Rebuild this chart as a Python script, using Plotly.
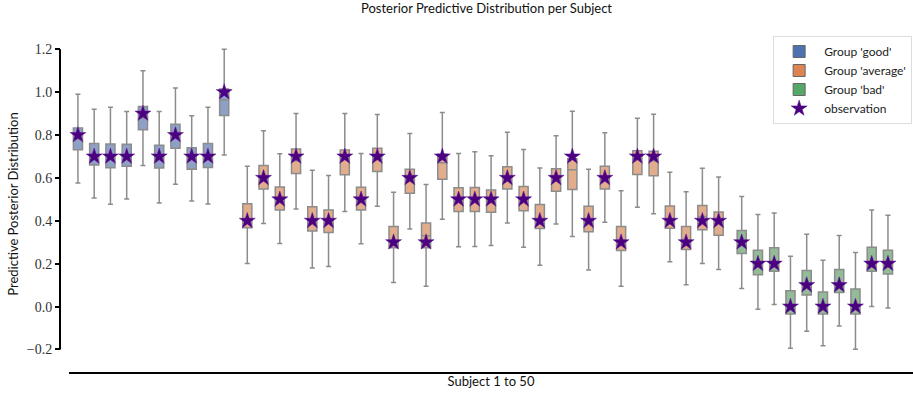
import plotly.graph_objects as go

subjects = list(range(1, 51))
groups = ["good"] * 10 + ["average"] * 30 + ["bad"] * 10
group_names = ["good", "average", "bad"]

observation = [0.8, 0.7, 0.7, 0.7, 0.9, 0.7, 0.8, 0.7, 0.7, 1.0,
               0.4, 0.6, 0.5, 0.7, 0.4, 0.4, 0.7, 0.5, 0.7, 0.3,
               0.6, 0.3, 0.7, 0.5, 0.5, 0.5, 0.6, 0.5, 0.4, 0.6,
               0.7, 0.4, 0.6, 0.3, 0.7, 0.7, 0.4, 0.3, 0.4, 0.4,
               0.3, 0.2, 0.2, 0.0, 0.1, 0.0, 0.1, 0.0, 0.2, 0.2]

upper = [0.99, 0.92, 0.93, 0.91, 1.10, 0.91, 1.02, 0.89, 0.93, 1.20,
         0.655, 0.82, 0.713, 0.90, 0.636, 0.611, 0.90, 0.714, 0.896, 0.533,
         0.807, 0.569, 0.905, 0.714, 0.722, 0.704, 0.813, 0.733, 0.646, 0.797,
         0.911, 0.64, 0.811, 0.54, 0.878, 0.897, 0.627, 0.536, 0.645, 0.604,
         0.513, 0.429, 0.437, 0.235, 0.338, 0.216, 0.332, 0.252, 0.451, 0.426]

q3 = [0.833, 0.761, 0.758, 0.757, 0.933, 0.752, 0.85, 0.741, 0.761, 1.015,
      0.48, 0.658, 0.558, 0.735, 0.466, 0.451, 0.73, 0.557, 0.738, 0.373,
      0.641, 0.39, 0.71, 0.554, 0.555, 0.544, 0.652, 0.56, 0.476, 0.643,
      0.69, 0.468, 0.654, 0.373, 0.727, 0.724, 0.469, 0.373, 0.472, 0.441,
      0.355, 0.263, 0.274, 0.074, 0.168, 0.068, 0.173, 0.082, 0.277, 0.263]

median = [0.78, 0.70, 0.70, 0.70, 0.88, 0.70, 0.80, 0.69, 0.70, 0.964,
          0.41, 0.607, 0.50, 0.68, 0.40, 0.40, 0.69, 0.50, 0.689, 0.31,
          0.60, 0.33, 0.671, 0.50, 0.50, 0.49, 0.60, 0.50, 0.399, 0.61,
          0.638, 0.407, 0.60, 0.31, 0.69, 0.68, 0.41, 0.31, 0.42, 0.405,
          0.30, 0.20, 0.21, 0.01, 0.10, 0.0, 0.11, 0.01, 0.20, 0.20]

q1 = [0.732, 0.66, 0.647, 0.655, 0.825, 0.646, 0.739, 0.641, 0.649, 0.891,
      0.368, 0.549, 0.451, 0.621, 0.352, 0.346, 0.615, 0.451, 0.63, 0.274,
      0.529, 0.274, 0.594, 0.444, 0.444, 0.44, 0.549, 0.447, 0.364, 0.538,
      0.546, 0.349, 0.549, 0.262, 0.616, 0.61, 0.365, 0.266, 0.358, 0.333,
      0.248, 0.149, 0.165, -0.035, 0.054, -0.035, 0.066, -0.035, 0.165, 0.152]

lower = [0.577, 0.507, 0.477, 0.502, 0.658, 0.483, 0.571, 0.492, 0.479, 0.707,
         0.201, 0.387, 0.294, 0.455, 0.18, 0.187, 0.444, 0.293, 0.468, 0.112,
         0.362, 0.095, 0.407, 0.279, 0.28, 0.285, 0.39, 0.277, 0.193, 0.385,
         0.327, 0.171, 0.393, 0.095, 0.463, 0.433, 0.209, 0.102, 0.201, 0.173,
         0.084, -0.012, 0.01, -0.194, -0.115, -0.183, -0.091, -0.199, 0.001, -0.007]

legend_colors = {"good": "#4c72b0", "average": "#dd8452", "bad": "#55a868"}
box_fill = {"good": "#8fa0c6", "average": "#e2ad8d", "bad": "#93bb98"}

y_ticks = [-0.2, 0.0, 0.2, 0.4, 0.6, 0.8, 1.0, 1.2]

# x positions: subjects with a small gap between groups
group_gap = 0.42
positions = [s + group_gap * group_names.index(g) for s, g in zip(subjects, groups)]

fig = go.Figure()

for g in group_names:
    idx = [i for i, gg in enumerate(groups) if gg == g]
    fig.add_trace(go.Box(
        x=[positions[i] for i in idx],
        q1=[q1[i] for i in idx],
        median=[median[i] for i in idx],
        q3=[q3[i] for i in idx],
        lowerfence=[lower[i] for i in idx],
        upperfence=[upper[i] for i in idx],
        boxpoints=False,
        width=0.56,
        whiskerwidth=0.55,
        fillcolor=box_fill[g],
        line=dict(color="#8c8c8c", width=1.5),
        showlegend=False,
        hoverinfo="skip",
    ))

for g in group_names:
    fig.add_trace(go.Bar(
        x=[None], y=[None],
        name=f"Group '{g}'",
        marker=dict(color=legend_colors[g], line=dict(color="#666666", width=1)),
        showlegend=True,
    ))

fig.add_trace(go.Scatter(
    x=positions, y=observation,
    mode="markers",
    name="observation",
    marker=dict(symbol="star", size=12, color="#4b0082",
                line=dict(color="#5a1090", width=0.5)),
))

x_min = positions[0] - 0.55
x_max = positions[-1] + 1.54

label_font = "Lato, 'Open Sans', sans-serif"

fig.update_layout(
    width=913, height=394,
    margin=dict(l=60, r=0, t=36, b=22),
    plot_bgcolor="white",
    paper_bgcolor="white",
    boxmode="overlay",
    title=dict(
        text="Posterior Predictive Distribution per Subject",
        x=0.5, xref="paper", xanchor="center",
        y=0.99, yref="container", yanchor="top",
        font=dict(family=label_font, size=13, color="#111111"),
    ),
    legend=dict(
        x=0.999, y=1.0, xanchor="right", yanchor="top",
        bgcolor="white", bordercolor="#dddddd", borderwidth=1,
        font=dict(family=label_font, size=12, color="#222222"),
        itemwidth=40, tracegroupgap=0,
    ),
    xaxis=dict(
        domain=[9 / 853, 1.0],
        range=[x_min, x_max],
        showticklabels=False, ticks="",
        showgrid=False, zeroline=False,
        showline=True, linecolor="black", linewidth=2,
        title=dict(text="Subject 1 to 50", standoff=4,
                   font=dict(family=label_font, size=13, color="#111111")),
    ),
    yaxis=dict(
        range=[-0.305, 1.262],
        anchor="free", position=0,
        tickvals=y_ticks, tickformat=".1f",
        ticks="outside", ticklen=5, tickwidth=1.5, tickcolor="black",
        showgrid=False, zeroline=False, showline=False,
        tickfont=dict(family="'Liberation Serif', serif", size=14, color="#333333"),
        title=dict(text="Predictive Posterior Distribution", standoff=4,
                   font=dict(family=label_font, size=13, color="#111111")),
    ),
    shapes=[dict(type="line", xref="paper", yref="y",
                 x0=0, x1=0, y0=y_ticks[0], y1=y_ticks[-1],
                 line=dict(color="black", width=2))],
)

fig.write_html("out.html")
